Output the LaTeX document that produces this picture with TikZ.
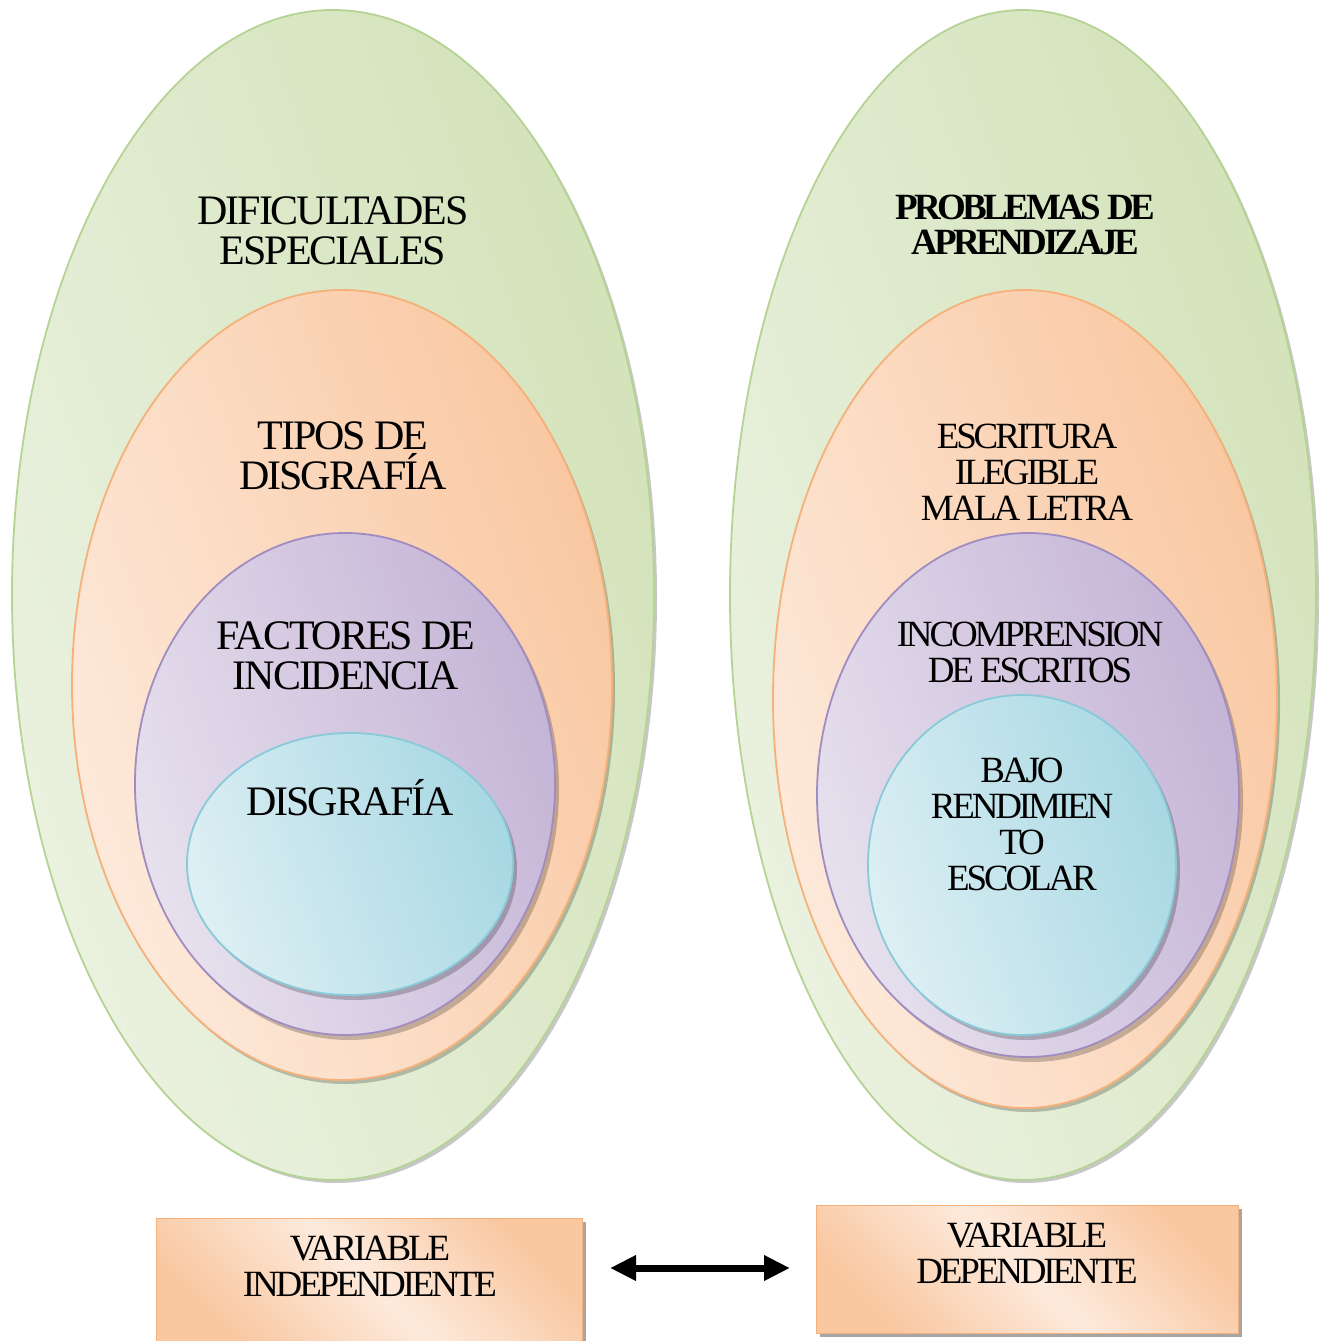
\documentclass[tikz,border=0pt]{standalone}
\usepackage{fontspec}
\setmainfont{Liberation Serif}[LetterSpace=-5]
\usetikzlibrary{shapes.geometric,arrows.meta}
\definecolor{gA}{HTML}{EBF2E1}
\definecolor{gB}{HTML}{D2E2B8}
\definecolor{gL}{HTML}{B5D394}
\definecolor{oA}{HTML}{FDEADC}
\definecolor{oB}{HTML}{F9C7A0}
\definecolor{oL}{HTML}{F6B07A}
\definecolor{pA}{HTML}{E7E1EE}
\definecolor{pB}{HTML}{C4B4D6}
\definecolor{pL}{HTML}{A08CC0}
\definecolor{cA}{HTML}{DDEFF4}
\definecolor{cB}{HTML}{A8D8E3}
\definecolor{cL}{HTML}{88CAD8}
\tikzset{
  ell/.style={ellipse, inner sep=0pt, outer sep=0pt, line width=1.8pt},
  green/.style={ell, draw=gL, left color=gA, right color=gB, shading angle=110},
  orng/.style={ell, draw=oL, left color=oA, right color=oB, shading angle=110},
  purp/.style={ell, draw=pL, left color=pA, right color=pB, shading angle=110},
  cyan/.style={ell, draw=cL, left color=cA, right color=cB, shading angle=110},
  shad/.style={fill=black, opacity=0.22},
  big/.style={align=center, font=\fontsize{42}{40}\selectfont},
  med/.style={align=center, font=\fontsize{37}{36}\selectfont\addfontfeature{LetterSpace=-8.5}},
  medb/.style={align=center, font=\fontsize{37}{35}\selectfont\bfseries\addfontfeature{LetterSpace=-9.5}},
  varbox/.style={draw=oL, line width=1pt, left color=oB, right color=oB, middle color=oA, shading angle=135, inner sep=0pt, outer sep=0pt},
}
\begin{document}
\begin{tikzpicture}[x=1pt,y=-1pt]
\useasboundingbox (0,0) rectangle (1320,1341);
% ---- left set ----
\fill[shad] (336,598) ellipse (321 and 585);
\node[green, minimum width=642, minimum height=1170] (lg) at (333,595) {};
\fill[shad] (345,689) ellipse (270 and 395);
\node[orng, minimum width=540, minimum height=790] (lo) at (342,685) {};
\fill[shad] (349,789) ellipse (210 and 251);
\node[purp, minimum width=420, minimum height=502] (lp) at (345,784) {};
\fill[shad] (354,869) ellipse (163 and 131);
\node[cyan, minimum width=326, minimum height=262] (lc) at (350,864) {};
% ---- right set ----
\fill[shad] (1026,598) ellipse (293 and 585);
\node[green, minimum width=586, minimum height=1170] (rg) at (1023,595) {};
\fill[shad] (1028,703) ellipse (252 and 409);
\node[orng, minimum width=504, minimum height=818] (ro) at (1025,699) {};
\fill[shad] (1032,800) ellipse (211 and 262);
\node[purp, minimum width=422, minimum height=524] (rp) at (1028,795) {};
\fill[shad] (1026,870) ellipse (154 and 170);
\node[cyan, minimum width=308, minimum height=340] (rc) at (1022,865) {};
% ---- texts ----
\node[big] (t1) at (333,231) {DIFICULTADES\\ESPECIALES};
\node[big] (t2) at (343,456) {TIPOS DE\\DISGRAFÍA};
\node[big] (t3) at (346,656) {FACTORES DE\\INCIDENCIA};
\node[big] (t4) at (350,798) {DISGRAFÍA};
\node[medb] (t5) at (1025,225) {PROBLEMAS DE\\APRENDIZAJE};
\node[med] (t6) at (1027,472) {ESCRITURA\\ILEGIBLE\\MALA LETRA};
\node[med] (t7) at (1030,652) {INCOMPRENSION\\DE ESCRITOS};
\node[med] (t8) at (1022,824) {BAJO\\RENDIMIEN\\TO\\ESCOLAR};
% ---- variable boxes ----
\fill[black!35] (160,1222) rectangle (586,1345);
\node[varbox, minimum width=426, minimum height=126, anchor=north west] (vb1) at (156,1218) {};
\fill[black!35] (820,1209) rectangle (1242,1337);
\node[varbox, minimum width=422, minimum height=128, anchor=north west] (vb2) at (816,1205) {};
\node[med] (v1) at (370,1266) {VARIABLE\\INDEPENDIENTE};
\node[med] (v2) at (1027,1253) {VARIABLE\\DEPENDIENTE};
\coordinate (aL) at (610,1268);
\coordinate (aR) at (790,1268);
\draw[line width=7pt, {Triangle[length=26pt,width=24pt]}-{Triangle[length=26pt,width=24pt]}] (aL) -- (aR);
\end{tikzpicture}
\end{document}
